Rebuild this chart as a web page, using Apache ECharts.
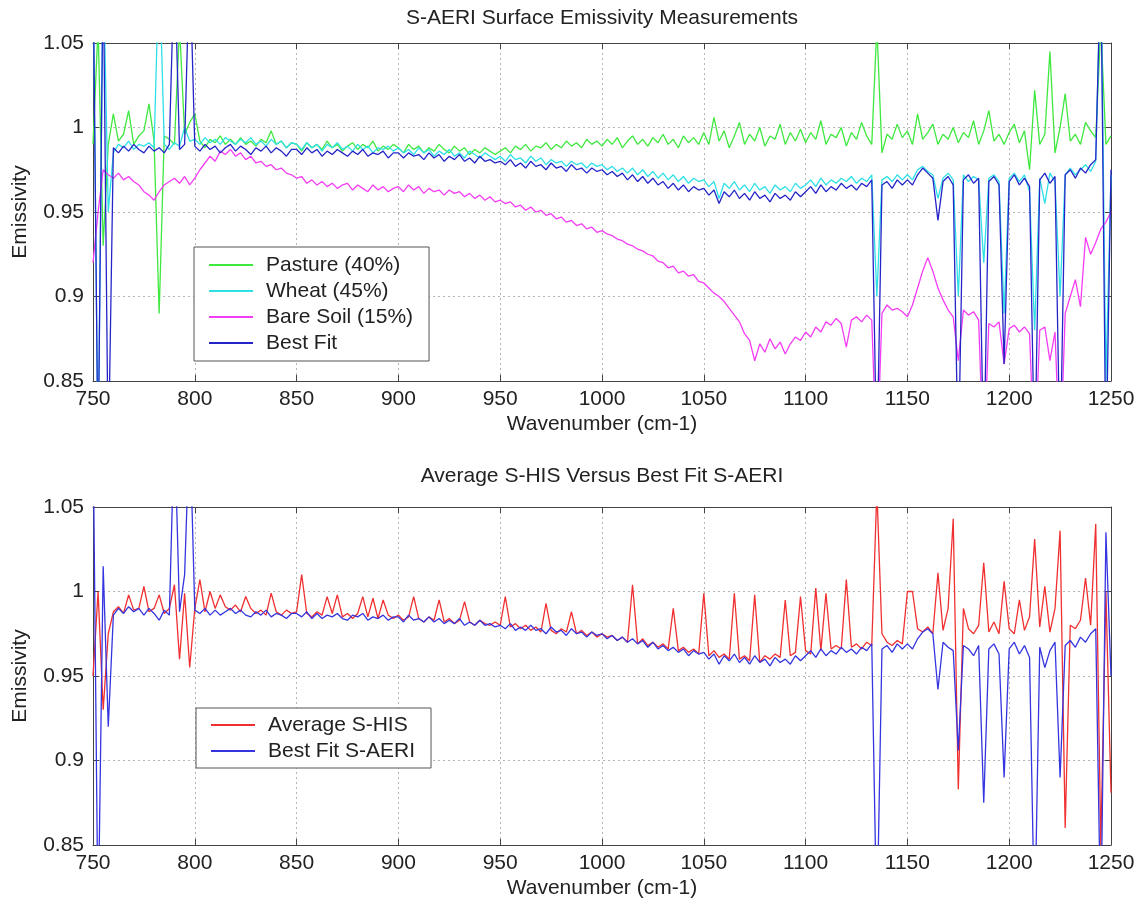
<!DOCTYPE html>
<html>
<head>
<meta charset="utf-8">
<script src="https://cdn.jsdelivr.net/npm/echarts@6/dist/echarts.min.js"></script>
<style>
html,body{margin:0;padding:0;background:#fff;}
#chart{width:1143px;height:907px;}
</style>
</head>
<body>
<div id="chart"></div>
<script>
// Wavenumber sampling (cm-1)
const wavenumber = [
750,752.5,755,757.5,760,762.5,765,767.5,770,772.5,775,777.5,780,782.5,785,787.5,790,792.5,795,797.5,
800,802.5,805,807.5,810,812.5,815,817.5,820,822.5,825,827.5,830,832.5,835,837.5,840,842.5,845,847.5,
850,852.5,855,857.5,860,862.5,865,867.5,870,872.5,875,877.5,880,882.5,885,887.5,890,892.5,895,897.5,
900,902.5,905,907.5,910,912.5,915,917.5,920,922.5,925,927.5,930,932.5,935,937.5,940,942.5,945,947.5,
950,952.5,955,957.5,960,962.5,965,967.5,970,972.5,975,977.5,980,982.5,985,987.5,990,992.5,995,997.5,
1000,1002.5,1005,1007.5,1010,1012.5,1015,1017.5,1020,1022.5,1025,1027.5,1030,1032.5,1035,1037.5,1040,1042.5,1045,1047.5,
1050,1052.5,1055,1057.5,1060,1062.5,1065,1067.5,1070,1072.5,1075,1077.5,1080,1082.5,1085,1087.5,1090,1092.5,1095,1097.5,
1100,1102.5,1105,1107.5,1110,1112.5,1115,1117.5,1120,1122.5,1125,1127.5,1130,1132.5,1135,1137.5,1140,1142.5,1145,1147.5,
1150,1152.5,1155,1157.5,1160,1162.5,1165,1167.5,1170,1172.5,1175,1177.5,1180,1182.5,1185,1187.5,1190,1192.5,1195,1197.5,
1200,1202.5,1205,1207.5,1210,1212.5,1215,1217.5,1220,1222.5,1225,1227.5,1230,1232.5,1235,1237.5,1240,1242.5,1245,1247.5,
1250];

// Top panel: S-AERI surface emissivity
const pasture = [
0.99,1.06,0.93,0.99,1.008,0.992,0.996,1.01,0.99,0.995,0.998,1.014,0.992,0.89,0.995,0.993,0.99,1.06,0.996,1.003,
1.008,0.992,0.988,0.993,0.991,0.995,0.99,0.993,0.99,0.994,0.99,0.992,0.989,0.993,0.991,0.998,0.99,0.992,0.988,0.991,
0.99,0.986,0.991,0.988,0.99,0.987,0.992,0.988,0.99,0.986,0.989,0.991,0.987,0.99,0.988,0.992,0.986,0.989,0.987,0.99,
0.988,0.985,0.99,0.987,0.989,0.985,0.988,0.986,0.99,0.987,0.985,0.989,0.986,0.988,0.984,0.987,0.985,0.988,0.986,0.984,
0.986,0.988,0.985,0.989,0.987,0.99,0.986,0.989,0.988,0.991,0.987,0.99,0.988,0.992,0.989,0.991,0.988,0.993,0.99,0.992,
0.989,0.993,0.99,0.994,0.988,0.992,0.995,0.99,0.993,0.989,0.994,0.991,0.996,0.99,0.993,0.988,0.995,0.991,0.994,0.99,
0.997,0.99,1.006,0.992,0.998,0.988,0.995,1.003,0.99,0.996,0.992,1.0,0.989,0.995,0.993,1.002,0.99,0.997,0.992,0.999,
0.991,0.997,0.993,1.004,0.99,0.996,0.994,1.0,0.989,0.997,0.993,1.003,0.995,0.99,1.06,0.985,0.996,0.993,1.002,0.994,
0.998,0.99,1.008,0.993,0.997,1.002,0.99,0.996,0.993,1.0,0.991,0.997,0.994,1.004,0.99,0.998,1.01,0.992,0.996,0.99,
0.997,1.002,0.991,0.998,0.975,1.022,0.99,0.996,1.045,0.985,1.0,1.02,0.992,0.996,0.99,1.003,0.998,0.994,1.06,0.99,
0.995];

const wheat = [
1.1,0.8,1.1,0.95,0.985,0.99,0.988,0.992,0.987,0.99,0.989,0.991,0.988,1.1,0.99,0.987,0.991,0.989,1.0,0.992,
0.993,0.99,0.994,0.991,0.993,0.99,0.994,0.992,0.99,0.993,0.991,0.994,0.99,0.992,0.989,0.993,0.99,0.992,0.988,0.991,
0.99,0.987,0.991,0.988,0.99,0.986,0.99,0.988,0.991,0.987,0.989,0.986,0.99,0.987,0.989,0.985,0.988,0.987,0.989,0.986,
0.988,0.985,0.987,0.984,0.988,0.985,0.987,0.983,0.986,0.984,0.987,0.983,0.985,0.982,0.986,0.984,0.982,0.985,0.983,0.981,
0.983,0.98,0.984,0.981,0.982,0.979,0.983,0.98,0.982,0.978,0.981,0.979,0.98,0.977,0.98,0.978,0.979,0.976,0.979,0.977,
0.978,0.975,0.977,0.974,0.976,0.973,0.976,0.972,0.975,0.971,0.974,0.97,0.973,0.969,0.972,0.968,0.971,0.967,0.97,0.968,
0.969,0.965,0.968,0.958,0.967,0.964,0.968,0.963,0.966,0.962,0.967,0.963,0.965,0.961,0.966,0.963,0.965,0.962,0.967,0.964,
0.966,0.969,0.965,0.97,0.966,0.969,0.967,0.97,0.968,0.971,0.967,0.97,0.968,0.972,0.9,0.969,0.971,0.968,0.972,0.969,
0.972,0.969,0.975,0.977,0.974,0.972,0.958,0.97,0.973,0.969,0.9,0.972,0.968,0.971,0.969,0.92,0.97,0.972,0.968,0.89,
0.97,0.973,0.968,0.972,0.962,0.88,0.97,0.955,0.973,0.968,0.9,0.972,0.976,0.972,0.975,0.978,0.974,0.98,1.1,0.85,
0.972];

const bareSoil = [
0.92,0.95,0.975,0.972,0.97,0.973,0.969,0.971,0.968,0.966,0.962,0.96,0.957,0.962,0.966,0.968,0.97,0.967,0.971,0.966,
0.97,0.975,0.979,0.983,0.98,0.986,0.984,0.987,0.983,0.985,0.981,0.983,0.979,0.98,0.977,0.978,0.975,0.976,0.973,0.972,
0.97,0.971,0.967,0.969,0.966,0.968,0.965,0.967,0.964,0.966,0.967,0.963,0.966,0.964,0.962,0.966,0.963,0.965,0.962,0.964,
0.965,0.962,0.966,0.963,0.965,0.961,0.964,0.962,0.963,0.96,0.963,0.961,0.962,0.959,0.961,0.958,0.96,0.957,0.959,0.956,
0.957,0.955,0.956,0.953,0.954,0.951,0.953,0.95,0.951,0.948,0.949,0.946,0.947,0.944,0.945,0.942,0.943,0.94,0.941,0.938,
0.939,0.937,0.936,0.934,0.933,0.931,0.93,0.928,0.927,0.925,0.924,0.921,0.92,0.917,0.918,0.914,0.915,0.912,0.913,0.909,
0.908,0.905,0.902,0.9,0.897,0.893,0.889,0.885,0.878,0.874,0.862,0.872,0.867,0.875,0.869,0.873,0.866,0.872,0.876,0.874,
0.879,0.876,0.882,0.879,0.885,0.883,0.887,0.884,0.87,0.886,0.888,0.885,0.889,0.886,0.8,0.89,0.895,0.892,0.893,0.891,
0.888,0.895,0.905,0.915,0.923,0.915,0.905,0.898,0.892,0.888,0.862,0.892,0.889,0.891,0.886,0.8,0.884,0.882,0.885,0.86,
0.881,0.883,0.879,0.882,0.878,0.8,0.88,0.882,0.862,0.879,0.8,0.89,0.9,0.91,0.894,0.935,0.925,0.932,0.94,0.944,
0.95];

const bestFit = [
1.1,0.8,1.1,0.8,0.988,0.985,0.989,0.986,0.99,0.987,0.985,0.989,0.986,0.988,0.985,0.99,1.1,0.987,0.99,1.1,
0.989,0.986,0.99,0.987,0.989,0.985,0.988,0.99,0.986,0.989,0.987,0.984,0.988,0.986,0.989,0.985,0.988,0.986,0.983,0.987,
0.987,0.984,0.988,0.985,0.987,0.983,0.986,0.984,0.987,0.985,0.983,0.986,0.984,0.987,0.983,0.985,0.984,0.986,0.982,0.985,
0.985,0.982,0.985,0.983,0.984,0.981,0.985,0.982,0.984,0.98,0.983,0.981,0.984,0.98,0.982,0.979,0.983,0.98,0.981,0.979,
0.98,0.978,0.981,0.977,0.979,0.976,0.98,0.977,0.978,0.975,0.979,0.976,0.977,0.974,0.978,0.975,0.976,0.973,0.976,0.974,
0.975,0.972,0.974,0.971,0.973,0.969,0.972,0.968,0.971,0.967,0.97,0.966,0.968,0.964,0.967,0.963,0.966,0.962,0.965,0.963,
0.964,0.96,0.963,0.955,0.962,0.959,0.963,0.958,0.961,0.957,0.962,0.958,0.96,0.956,0.961,0.958,0.96,0.957,0.962,0.959,
0.962,0.965,0.961,0.966,0.962,0.965,0.963,0.967,0.964,0.966,0.963,0.967,0.965,0.969,0.8,0.966,0.968,0.964,0.969,0.966,
0.969,0.966,0.972,0.976,0.973,0.97,0.945,0.968,0.971,0.966,0.8,0.969,0.972,0.967,0.97,0.8,0.968,0.971,0.966,0.86,
0.968,0.972,0.966,0.97,0.965,0.8,0.969,0.973,0.967,0.971,0.8,0.972,0.975,0.97,0.976,0.973,0.978,0.981,1.1,0.8,
0.975];

// Bottom panel: Average S-HIS vs best fit S-AERI
const avgSHIS = [
0.95,1.0,0.93,0.975,0.988,0.991,0.987,0.998,0.989,0.99,1.003,0.988,0.99,0.998,0.987,0.99,1.004,0.96,0.999,0.955,
0.99,1.007,0.988,1.0,0.99,0.998,0.991,0.989,0.992,0.988,0.997,0.99,0.987,0.989,0.986,0.999,0.988,0.986,0.989,0.987,
0.988,1.01,0.987,0.985,0.988,0.986,0.997,0.987,0.998,0.985,0.987,0.984,0.987,0.997,0.985,0.996,0.984,0.995,0.986,0.984,
0.986,0.983,0.985,0.997,0.984,0.982,0.985,0.983,0.995,0.982,0.984,0.981,0.983,0.994,0.982,0.98,0.983,0.981,0.98,0.982,
0.98,0.997,0.979,0.981,0.978,0.98,0.977,0.979,0.976,0.993,0.977,0.975,0.978,0.976,0.988,0.975,0.977,0.974,0.976,0.973,
0.975,0.973,0.974,0.971,0.973,0.97,1.004,0.969,0.972,0.968,0.97,0.967,0.969,0.966,0.99,0.965,0.967,0.964,0.966,0.963,
0.999,0.962,0.965,0.961,0.963,0.96,0.999,0.96,0.962,0.959,0.998,0.958,0.962,0.96,0.963,0.961,0.995,0.962,0.964,0.997,
0.965,0.963,1.002,0.965,0.999,0.966,0.968,0.966,1.007,0.967,0.969,0.966,0.97,0.968,1.06,0.975,0.97,0.968,0.971,0.969,
1.0,1.0,0.978,0.976,0.979,0.975,1.011,0.977,0.99,1.043,0.883,0.99,0.978,0.975,0.98,1.017,0.976,0.982,0.975,1.006,
0.978,0.975,0.995,0.977,0.985,1.031,0.979,1.003,0.976,0.99,1.036,0.86,0.98,0.978,0.983,1.008,0.98,1.04,0.85,1.0,
0.881];

const bestFitSAERI = [
1.1,0.8,1.015,0.92,0.986,0.99,0.987,0.991,0.988,0.99,0.986,0.99,0.987,0.983,0.989,0.986,1.1,0.988,1.01,1.1,
0.989,0.987,0.99,0.986,0.989,0.986,0.988,0.99,0.987,0.989,0.986,0.985,0.988,0.986,0.989,0.985,0.987,0.986,0.984,0.987,
0.987,0.985,0.988,0.984,0.987,0.984,0.986,0.985,0.987,0.984,0.983,0.986,0.985,0.987,0.983,0.985,0.984,0.986,0.983,0.985,
0.985,0.982,0.986,0.983,0.984,0.982,0.985,0.982,0.984,0.981,0.983,0.981,0.984,0.98,0.982,0.98,0.983,0.98,0.981,0.979,
0.98,0.978,0.981,0.977,0.979,0.977,0.98,0.977,0.978,0.975,0.979,0.976,0.977,0.974,0.978,0.975,0.976,0.973,0.976,0.974,
0.975,0.972,0.974,0.971,0.973,0.97,0.972,0.969,0.971,0.967,0.97,0.966,0.968,0.965,0.967,0.964,0.966,0.962,0.965,0.963,
0.964,0.96,0.963,0.957,0.962,0.959,0.963,0.958,0.961,0.957,0.962,0.958,0.96,0.956,0.961,0.958,0.96,0.957,0.962,0.959,
0.962,0.965,0.961,0.966,0.962,0.965,0.963,0.967,0.964,0.966,0.963,0.967,0.965,0.969,0.8,0.966,0.968,0.964,0.969,0.966,
0.969,0.966,0.972,0.976,0.978,0.975,0.942,0.97,0.967,0.965,0.906,0.968,0.966,0.962,0.968,0.875,0.966,0.969,0.963,0.89,
0.966,0.97,0.963,0.968,0.961,0.8,0.967,0.955,0.965,0.97,0.89,0.968,0.971,0.967,0.973,0.97,0.975,0.978,0.8,1.035,
0.95];

const xTicks = [750, 800, 850, 900, 950, 1000, 1050, 1100, 1150, 1200, 1250];
const yTicks = [0.85, 0.9, 0.95, 1, 1.05];

const FONT = 'Liberation Sans, Arial, sans-serif';
const FS = 21;

function pairs(arr) { return wavenumber.map((w, i) => [w, arr[i]]); }

function xAx(gi, pos) {
  const main = pos === 'bottom';
  return {
    type: 'value', gridIndex: gi, position: pos,
    min: xTicks[0], max: xTicks[xTicks.length - 1], interval: 50,
    name: main ? 'Wavenumber (cm-1)' : '',
    nameLocation: 'middle', nameGap: 33,
    nameTextStyle: { fontFamily: FONT, fontSize: FS, color: '#222' },
    axisLine: { show: true, onZero: false, lineStyle: { color: '#444', width: 1 } },
    axisTick: { show: true, inside: true, length: 6, lineStyle: { color: '#444' } },
    axisLabel: { show: main, margin: 8, fontFamily: FONT, fontSize: FS, color: '#222',
      formatter: v => String(Math.round(v)) },
    splitLine: { show: main, lineStyle: { color: '#b5b5b5', type: [2, 3], width: 1 } }
  };
}
function yAx(gi, pos) {
  const main = pos === 'left';
  return {
    type: 'value', gridIndex: gi, position: pos,
    min: yTicks[0], max: yTicks[yTicks.length - 1], interval: 0.05,
    name: main ? 'Emissivity' : '',
    nameLocation: 'middle', nameGap: 62, nameRotate: 90,
    nameTextStyle: { fontFamily: FONT, fontSize: FS, color: '#222' },
    axisLine: { show: true, onZero: false, lineStyle: { color: '#444', width: 1 } },
    axisTick: { show: true, inside: true, length: 6, lineStyle: { color: '#444' } },
    axisLabel: { show: main, margin: 9, fontFamily: FONT, fontSize: FS, color: '#222',
      formatter: v => String(+v.toFixed(2)) },
    splitLine: { show: main, lineStyle: { color: '#b5b5b5', type: [2, 3], width: 1 } }
  };
}
function line(name, arr, color, xi, yi) {
  return {
    name, type: 'line', xAxisIndex: xi, yAxisIndex: yi,
    data: pairs(arr), symbol: 'none', showSymbol: false, animation: false,
    lineStyle: { color, width: 1.3 }, itemStyle: { color }, clip: true, z: 2
  };
}

const legendBase = {
  orient: 'vertical', itemWidth: 44, itemHeight: 2, itemGap: 0,
  backgroundColor: '#fff', borderColor: '#555', borderWidth: 1,
  textStyle: { fontFamily: FONT, fontSize: FS, color: '#222', lineHeight: 26, padding: [0, 0, 0, 8] }
};

const chart = echarts.init(document.getElementById('chart'), null, { renderer: 'canvas' });
chart.setOption({
  backgroundColor: '#fff',
  animation: false,
  title: [
    { text: 'S-AERI Surface Emissivity Measurements', left: 602, top: 8, textAlign: 'center', padding: 0,
      textStyle: { fontFamily: FONT, fontSize: FS, fontWeight: 'normal', color: '#222' } },
    { text: 'Average S-HIS Versus Best Fit S-AERI', left: 602, top: 466, textAlign: 'center', padding: 0,
      textStyle: { fontFamily: FONT, fontSize: FS, fontWeight: 'normal', color: '#222' } }
  ],
  grid: [
    { left: 93, right: 32, top: 43, height: 338, show: false },
    { left: 93, right: 32, top: 507, height: 338, show: false }
  ],
  xAxis: [xAx(0, 'bottom'), xAx(0, 'top'), xAx(1, 'bottom'), xAx(1, 'top')],
  yAxis: [yAx(0, 'left'), yAx(0, 'right'), yAx(1, 'left'), yAx(1, 'right')],
  legend: [
    Object.assign({}, legendBase, { left: 194, top: 247, padding: [5, 16, 5, 14],
      data: ['Pasture (40%)', 'Wheat (45%)', 'Bare Soil (15%)', 'Best Fit'] }),
    Object.assign({}, legendBase, { left: 196, top: 708, padding: [4, 16, 4, 14],
      data: ['Average S-HIS', 'Best Fit S-AERI'] })
  ],
  series: [
    line('Pasture (40%)', pasture, '#3fe83f', 0, 0),
    line('Wheat (45%)', wheat, '#2ee0e6', 0, 0),
    line('Bare Soil (15%)', bareSoil, '#f43cf4', 0, 0),
    line('Best Fit', bestFit, '#2424c8', 0, 0),
    line('Average S-HIS', avgSHIS, '#f03030', 2, 2),
    line('Best Fit S-AERI', bestFitSAERI, '#3434e0', 2, 2)
  ]
});
</script>
</body>
</html>
